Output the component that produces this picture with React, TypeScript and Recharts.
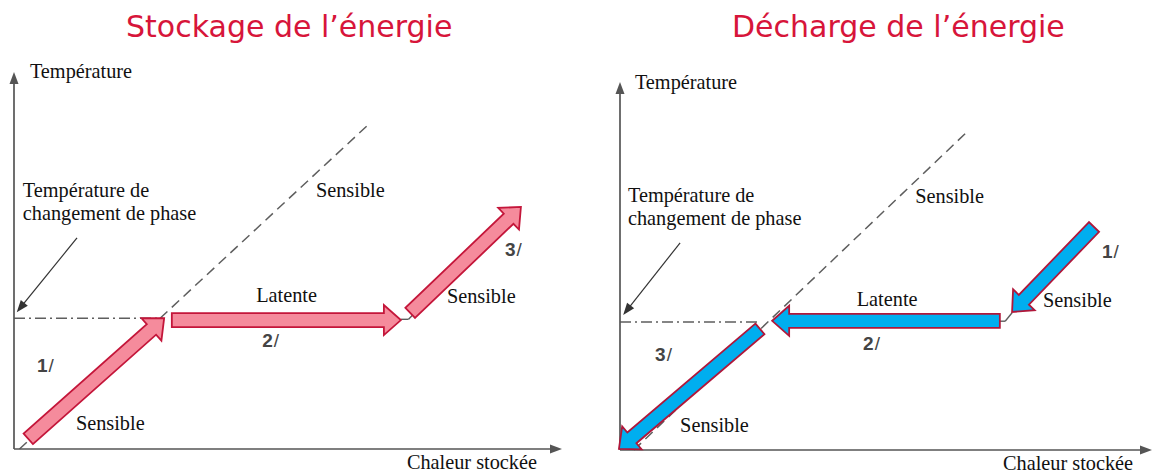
import React from "react";
import { ComposedChart, XAxis, YAxis, ReferenceLine, ReferenceDot } from "recharts";

type Pt = [number, number];

// both panels use arbitrary units: x = heat stored (0..100), y = temperature (0..100)

// --- Stockage de l'énergie ---
const STORE_AXES: Pt[][] = [
  [[0, 0], [0, 100]],
  [[0, 0], [100, 0]],
];
const STORE_PHASE_LINE: Pt[] = [[0, 34.7], [27.2, 34.7]];
const STORE_SENSIBLE_LINE: Pt[] = [[1, 0], [65, 86.5]];
const STORE_POINTER: Pt[] = [[11.5, 56], [0.5, 36.3]];
const STORE_LINK: Pt[][] = [
  [[70.6, 34.4], [72.0, 34.4]],
  [[72.0, 34.4], [72.8, 35.6]],
];
const STORE_ARROWS: Pt[][] = [
  [[2.6, 2.7], [27.4, 34.7]],
  [[28.8, 34.2], [70.6, 34.2]],
  [[72.3, 36.1], [92.5, 64.2]],
];
const STORE_TEXTS = [
  { text: "Température", x: 2.9, y: 98.4 },
  { text: "Température de", x: 1.6, y: 66.8 },
  { text: "changement de phase", x: 1.6, y: 60.7 },
  { text: "Sensible", x: 55.1, y: 66.8 },
  { text: "Latente", x: 44.2, y: 39.0 },
  { text: "Sensible", x: 79.0, y: 38.7 },
  { text: "Sensible", x: 11.3, y: 5.0 },
  { text: "Chaleur stockée", x: 71.7, y: -5.3 },
];
const STORE_STEPS = [
  { text: "1/", x: 4.2, y: 20.4 },
  { text: "2/", x: 45.3, y: 27.1 },
  { text: "3/", x: 89.6, y: 51.2 },
];

// --- Décharge de l'énergie ---
const RELEASE_AXES: Pt[][] = [
  [[0, 0], [0, 100]],
  [[0, 0], [100, 0]],
];
const RELEASE_PHASE_LINE: Pt[] = [[0, 34.8], [26.3, 34.8]];
const RELEASE_SENSIBLE_LINE: Pt[] = [[2.6, 0], [65.2, 86.4]];
const RELEASE_POINTER: Pt[] = [[11.3, 56.3], [0.6, 36.7]];
const RELEASE_LINK: Pt[][] = [
  [[71.4, 35.0], [72.4, 35.0]],
  [[72.4, 35.0], [73.7, 37.3]],
];
const RELEASE_ARROWS: Pt[][] = [
  [[89.1, 60.6], [73.7, 37.5]],
  [[71.4, 35.1], [28.6, 35.1]],
  [[26.3, 32.9], [-0.2, 0.3]],
];
const RELEASE_TEXTS = [
  { text: "Température", x: 2.8, y: 98.1 },
  { text: "Température de", x: 1.5, y: 67.4 },
  { text: "changement de phase", x: 1.5, y: 61.1 },
  { text: "Sensible", x: 55.5, y: 67.1 },
  { text: "Sensible", x: 79.5, y: 38.9 },
  { text: "Latente", x: 44.5, y: 39.1 },
  { text: "Sensible", x: 11.3, y: 4.9 },
  { text: "Chaleur stockée", x: 72.0, y: -5.4 },
];
const RELEASE_STEPS = [
  { text: "1/", x: 90.6, y: 52.2 },
  { text: "2/", x: 45.7, y: 27.2 },
  { text: "3/", x: 6.6, y: 24.2 },
];

const AXIS_GRAY = "#555555";
const LINE_GRAY = "#5e5e5e";
const TITLE_RED = "#d7153a";

const seg = (s: Pt[]) => [
  { x: s[0][0], y: s[0][1] },
  { x: s[1][0], y: s[1][1] },
];

// thin line ending in a small filled arrow head
const thinArrow = (head: number, width: number, sw: number, color: string) => (p: any) => {
  const { x1, y1, x2, y2 } = p;
  const len = Math.hypot(x2 - x1, y2 - y1);
  const ux = (x2 - x1) / len;
  const uy = (y2 - y1) / len;
  const bx = x2 - ux * head;
  const by = y2 - uy * head;
  const nx = -uy * width / 2;
  const ny = ux * width / 2;
  return (
    <g>
      <line x1={x1} y1={y1} x2={bx + ux * 2} y2={by + uy * 2} stroke={color} strokeWidth={sw} />
      <polygon
        points={`${x2},${y2} ${bx + nx},${by + ny} ${bx - nx},${by - ny}`}
        fill={color}
      />
    </g>
  );
};

// wide block arrow
const blockArrow = (fill: string, stroke: string) => (p: any) => {
  const { x1, y1, x2, y2 } = p;
  const len = Math.hypot(x2 - x1, y2 - y1);
  const ux = (x2 - x1) / len;
  const uy = (y2 - y1) / len;
  const nx = -uy;
  const ny = ux;
  const hl = 17;
  const sw = 7;
  const hw = 15;
  const bx = x2 - ux * hl;
  const by = y2 - uy * hl;
  const pts = [
    [x1 + nx * sw, y1 + ny * sw],
    [bx + nx * sw, by + ny * sw],
    [bx + nx * hw, by + ny * hw],
    [x2, y2],
    [bx - nx * hw, by - ny * hw],
    [bx - nx * sw, by - ny * sw],
    [x1 - nx * sw, y1 - ny * sw],
  ];
  return (
    <polygon
      points={pts.map((q) => q.join(",")).join(" ")}
      fill={fill}
      stroke={stroke}
      strokeWidth={1.8}
    />
  );
};

const serifText = (t: string) => (p: any) => (
  <text x={p.cx} y={p.cy} fontFamily="'Liberation Serif', serif" fontSize={20.3} fill="#111111">
    {t}
  </text>
);

const stepText = (t: string) => (p: any) => (
  <text x={p.cx} y={p.cy} fontFamily="'Liberation Sans', Arial, sans-serif" fontSize={19} fill="#444444">
    <tspan fontWeight="bold">{t[0]}</tspan>
    <tspan dx={1}>{t.slice(1)}</tspan>
  </text>
);

interface PanelProps {
  left: number;
  margin: { top: number; right: number; bottom: number; left: number };
  axes: Pt[][];
  phaseLine: Pt[];
  sensibleLine: Pt[];
  pointer: Pt[];
  link: Pt[][];
  arrows: Pt[][];
  texts: { text: string; x: number; y: number }[];
  steps: { text: string; x: number; y: number }[];
  fill: string;
  stroke: string;
}

const Panel: React.FC<PanelProps> = (p) => (
  <div style={{ position: "absolute", left: p.left, top: 0 }}>
    <ComposedChart width={577} height={473} data={[]} margin={p.margin}>
      <XAxis type="number" dataKey="x" domain={[0, 100]} allowDataOverflow hide />
      <YAxis type="number" dataKey="y" domain={[0, 100]} allowDataOverflow hide />
      <ReferenceLine
        segment={seg(p.sensibleLine)}
        stroke={LINE_GRAY}
        strokeWidth={1.5}
        strokeDasharray="10 6"
        ifOverflow="visible"
      />
      <ReferenceLine
        segment={seg(p.phaseLine)}
        stroke={LINE_GRAY}
        strokeWidth={1.5}
        strokeDasharray="11 4 2 4"
        ifOverflow="visible"
      />
      {p.link.map((s, i) => (
        <ReferenceLine key={`l${i}`} segment={seg(s)} stroke={LINE_GRAY} strokeWidth={1.4} ifOverflow="visible" />
      ))}
      {p.axes.map((s, i) => (
        <ReferenceLine key={`a${i}`} segment={seg(s)} ifOverflow="visible" shape={thinArrow(12, 9, 1.7, AXIS_GRAY)} />
      ))}
      <ReferenceLine segment={seg(p.pointer)} ifOverflow="visible" shape={thinArrow(12, 9, 1.2, "#333333")} />
      {p.arrows.map((s, i) => (
        <ReferenceLine key={`r${i}`} segment={seg(s)} ifOverflow="visible" shape={blockArrow(p.fill, p.stroke)} />
      ))}
      {p.texts.map((t, i) => (
        <ReferenceDot key={`t${i}`} x={t.x} y={t.y} r={0} ifOverflow="visible" shape={serifText(t.text)} />
      ))}
      {p.steps.map((t, i) => (
        <ReferenceDot key={`s${i}`} x={t.x} y={t.y} r={0} ifOverflow="visible" shape={stepText(t.text)} />
      ))}
    </ComposedChart>
  </div>
);

const titleStyle: React.CSSProperties = {
  position: "absolute",
  top: 11.6,
  fontFamily: "'DejaVu Sans', Verdana, sans-serif",
  fontSize: 30,
  lineHeight: "30px",
  color: TITLE_RED,
  whiteSpace: "nowrap",
};

export default function App() {
  return (
    <div style={{ position: "absolute", left: 0, top: 0, width: 1154, height: 473, background: "#fff", overflow: "hidden" }}>
      <div style={{ ...titleStyle, left: 126 }}>Stockage de l’énergie</div>
      <div style={{ ...titleStyle, left: 732 }}>Décharge de l’énergie</div>
      <Panel
        left={0}
        margin={{ top: 72, right: 15, bottom: 24, left: 14 }}
        axes={STORE_AXES}
        phaseLine={STORE_PHASE_LINE}
        sensibleLine={STORE_SENSIBLE_LINE}
        pointer={STORE_POINTER}
        link={STORE_LINK}
        arrows={STORE_ARROWS}
        texts={STORE_TEXTS}
        steps={STORE_STEPS}
        fill="#f58b9c"
        stroke="#c4163a"
      />
      <Panel
        left={577}
        margin={{ top: 82, right: 2, bottom: 23, left: 43 }}
        axes={RELEASE_AXES}
        phaseLine={RELEASE_PHASE_LINE}
        sensibleLine={RELEASE_SENSIBLE_LINE}
        pointer={RELEASE_POINTER}
        link={RELEASE_LINK}
        arrows={RELEASE_ARROWS}
        texts={RELEASE_TEXTS}
        steps={RELEASE_STEPS}
        fill="#00aeef"
        stroke="#b0173a"
      />
    </div>
  );
}
